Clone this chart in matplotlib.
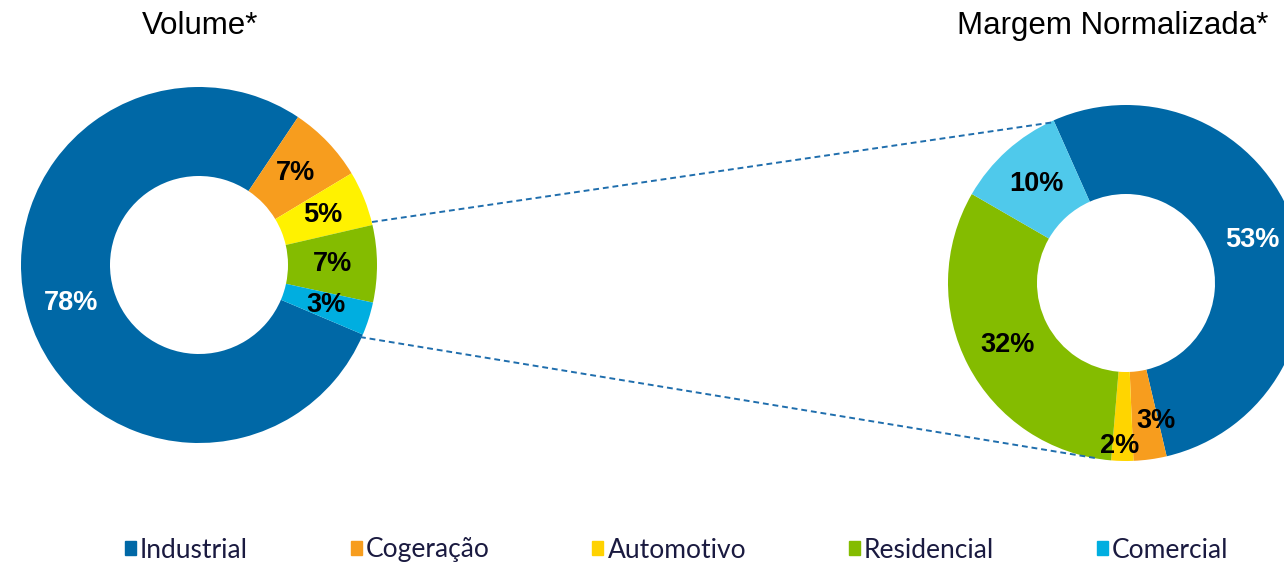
import matplotlib.pyplot as plt
from matplotlib.patches import Patch

# dados
categorias = ['Industrial', 'Cogeração', 'Automotivo', 'Residencial', 'Comercial']
volume = [78, 7, 5, 7, 3]
margem = [53, 3, 2, 32, 10]

cores_vol = ['#0068A6', '#F79D1E', '#FFF200', '#84BC00', '#00AEE0']
cores_mar = ['#0068A6', '#F79D1E', '#FFD500', '#84BC00', '#4FC9EB']
cores_leg = ['#0068A6', '#F79D1E', '#FFD200', '#84BC00', '#00AEE0']

W, H = 1284, 563
fig = plt.figure(figsize=(12.84, 5.63), dpi=100)
ax = fig.add_axes([0, 0, 1, 1])

R = 178
c_vol = (199, H - 265)
c_mar = (1126, H - 283)

def donut(vals, cores, centro, start):
    total = sum(vals)
    w, t, a = ax.pie(vals, colors=cores, startangle=start, counterclock=False,
                     radius=R, center=centro,
                     autopct=lambda p: '%d%%' % round(p * total / 100.0), pctdistance=0.75,
                     wedgeprops=dict(width=R * 0.5, linewidth=0),
                     textprops=dict(fontsize=19.5, fontweight='bold', family='Liberation Sans'))
    return w, a

w1, a1 = donut(volume, cores_vol, c_vol, -23)
w2, a2 = donut(margem, cores_mar, c_mar, 114)

a1[0].set_color('white')
a2[0].set_color('white')
# ajuste dos rotulos pequenos
x, y = a2[1].get_position()
a2[1].set_position((x + 12, y - 6))
x, y = a2[2].get_position()
a2[2].set_position((x - 4, y - 30))

ax.set_xlim(0, W)
ax.set_ylim(0, H)
ax.set_aspect('equal')
ax.axis('off')

# linhas de ligacao
ax.plot([372, 1055], [H - 222, H - 122], ls='--', color='#1F6EAD', lw=1.4, dashes=(3, 2))
ax.plot([360, 1095], [H - 337, H - 458], ls='--', color='#1F6EAD', lw=1.4, dashes=(3, 2))

ax.text(200, H - 26, 'Volume*', ha='center', va='center', fontsize=22.5, family='Liberation Sans')
ax.text(1113, H - 26, 'Margem Normalizada*', ha='center', va='center', fontsize=22.5, family='Liberation Sans')

handles = [Patch(color=c) for c in cores_leg]
fig.legend(handles, categorias, ncol=5, loc='center', bbox_to_anchor=(0.527, 1 - 550 / H),
           frameon=False, handlelength=0.42, handleheight=0.42, handletextpad=0.15,
           columnspacing=3.9, prop=dict(family='Lato', size=19), labelcolor='#1A1A40')

fig.savefig('out.png', dpi=100)
